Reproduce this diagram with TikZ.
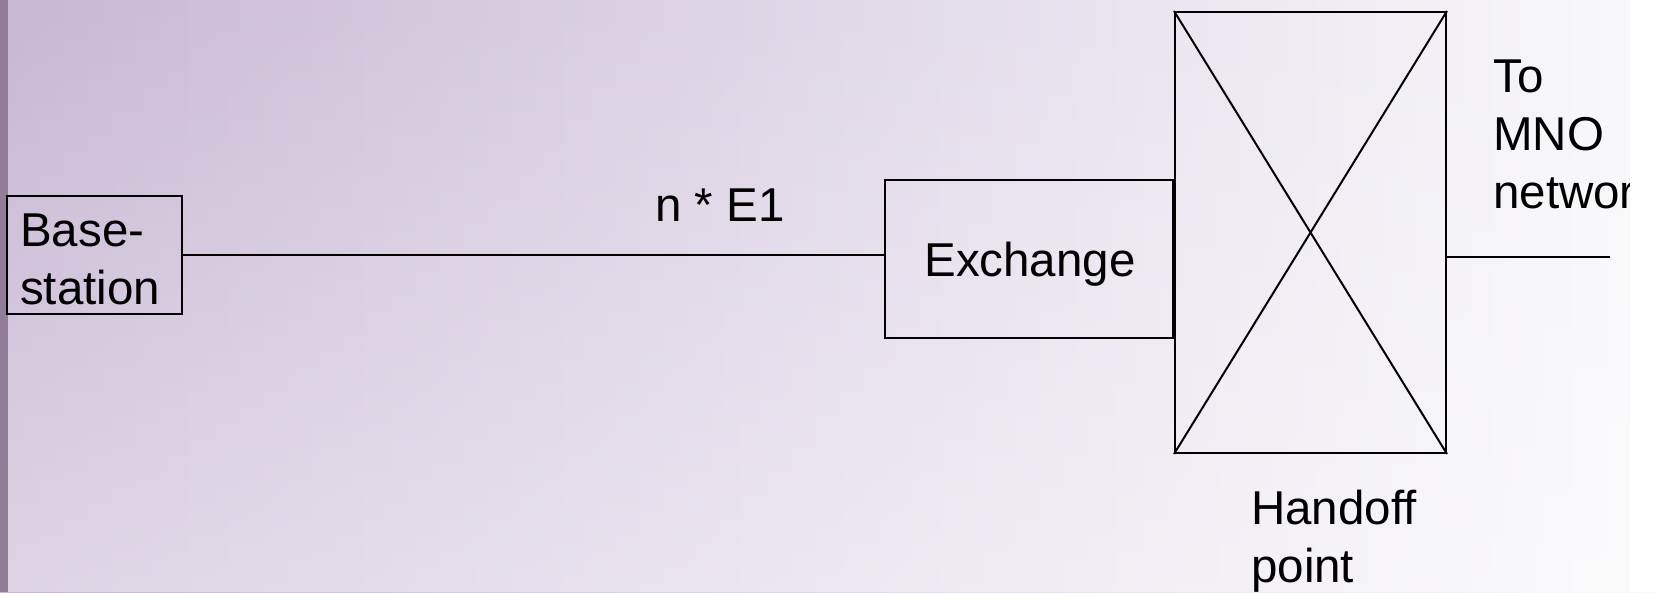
\documentclass[tikz,border=0pt]{standalone}
\usepackage{fontspec}
\setmainfont{Liberation Sans}
\usetikzlibrary{fadings}
\definecolor{bgleft}{RGB}{199,183,211}
\definecolor{bgright}{RGB}{249,249,251}
\definecolor{strip}{RGB}{145,125,152}
\tikzset{
  box/.style={draw=black, line width=2pt, inner sep=0pt},
  wire/.style={draw=black, line width=2pt},
  lbl/.style={inner sep=0pt, align=left, font=\fontsize{47.5}{58}\selectfont},
}
\begin{document}
\begin{tikzpicture}[x=1pt, y=-1pt]
\useasboundingbox (0,0) rectangle (1654,592);
\clip (0,0) rectangle (1654,592);
% background
\shade[left color=bgleft, right color=bgright] (0,0) rectangle (1654,592);
\fill[white, opacity=0.4, path fading=north] (0,0) rectangle (1654,592);
\fill[strip] (0,0) rectangle (8,592);
% nodes
\node[box, minimum width=175pt, minimum height=118pt] (bs) at (94.5,255) {};
\node[lbl, anchor=north west] (bsl) at (20,214) {Base-\\station};
\node[box, minimum width=288pt, minimum height=158pt] (ex) at (1029,259) {};
\node[lbl, anchor=base] (exl) at (1030,276) {Exchange};
\node[box, minimum width=271pt, minimum height=441pt] (hp) at (1310.5,232.5) {};
\draw[wire] (hp.north west) -- (hp.south east);
\draw[wire] (hp.north east) -- (hp.south west);
\coordinate (out) at (1610,257);
% connectors
\draw[wire] (bs.east) -- (bs.east -| ex.west);
\draw[wire] (out -| hp.east) -- (out);
% labels
\node[lbl, anchor=base west] (ne) at (655,221) {n * E1};
\node[lbl, anchor=north west] (mno) at (1493,60) {To\\MNO\\network};
\node[lbl, anchor=north west] (hpl) at (1251,489.5) {Handoff\\point};
% white strip at the right edge
\fill[white] (1630,0) rectangle (1654,592);
\end{tikzpicture}
\end{document}
